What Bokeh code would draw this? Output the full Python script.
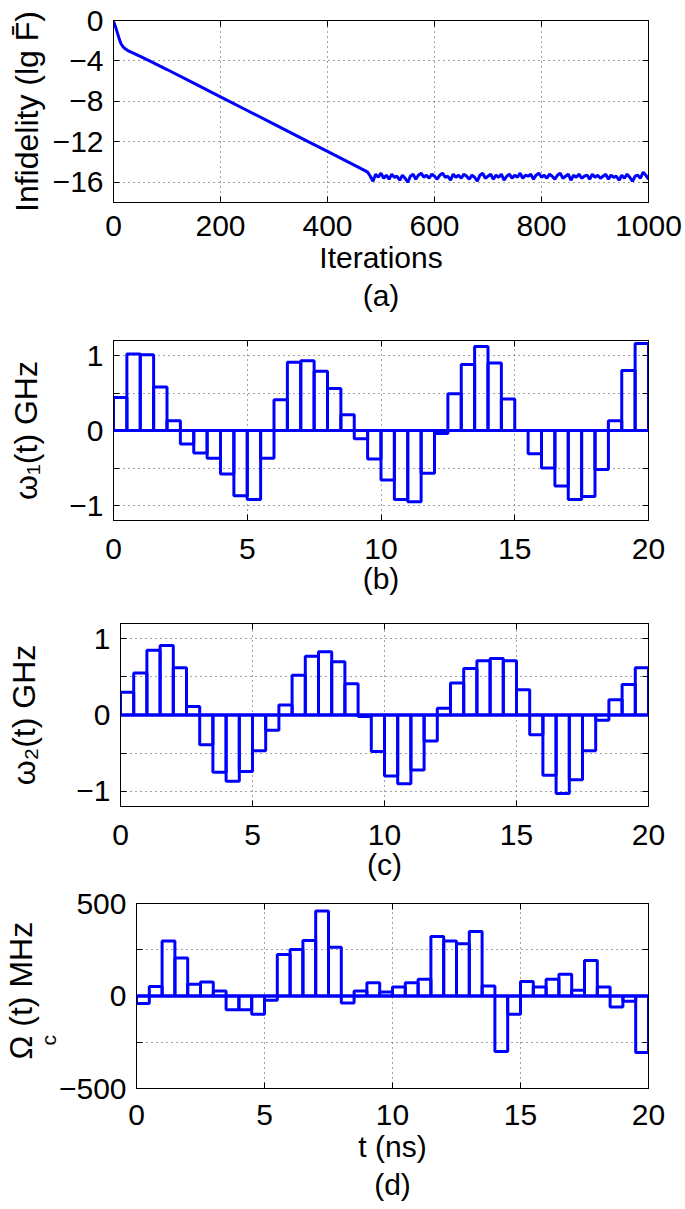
import math
from bokeh.plotting import figure
from bokeh.models import FixedTicker, Span, Title, LinearAxis
from bokeh.embed import file_html
from bokeh.resources import INLINE

BLUE = "#0000ff"
FONT = "Liberation Sans"
FS = "30px"
YFS = "32px"
W = 685

# ---------------- data ----------------
# (a) infidelity vs iterations
iter_head = [0, 3, 6, 10, 14, 18, 22, 26, 30, 35, 40, 50, 75, 100, 150, 200,
             250, 300, 350, 400, 450, 470]
infid_head = [-0.1, -0.5, -1.0, -1.7, -2.3, -2.6, -2.8, -2.95, -3.05, -3.18, -3.3,
              -3.55, -4.2, -4.85, -6.2, -7.55, -8.9, -10.25, -11.6, -12.95, -14.3, -14.85]
iter_tail = list(range(475, 1001, 5))
infid_tail = [
    -15.0, -15.4, -15.9, -15.2, -15.5, -15.1, -15.6, -15.3, -15.7, -15.2,
    -15.5, -15.4, -15.8, -15.3, -15.6, -16.0, -15.4, -15.2, -15.7, -15.3,
    -15.1, -15.5, -15.3, -15.6, -15.2, -15.4, -15.7, -15.3, -15.1, -15.5,
    -15.4, -15.8, -15.2, -15.5, -15.3, -15.6, -15.2, -15.4, -15.7, -15.3,
    -15.5, -15.9, -15.3, -15.1, -15.6, -15.4, -15.2, -15.7, -15.3, -15.5,
    -15.2, -15.8, -15.4, -15.2, -15.6, -15.3, -15.5, -15.1, -15.6, -15.3,
    -15.4, -15.2, -15.7, -15.3, -15.1, -15.5, -15.3, -15.6, -15.2, -15.4,
    -15.7, -15.3, -15.1, -15.6, -15.4, -15.2, -15.8, -15.3, -15.5, -15.2,
    -15.6, -15.4, -15.3, -15.7, -15.2, -15.5, -15.3, -15.6, -15.4, -15.2,
    -15.7, -15.3, -15.5, -15.4, -15.8, -15.3, -15.6, -15.2, -15.5, -15.9,
    -15.4, -15.3, -15.6, -15.0, -15.3, -15.7,
]
iterations = iter_head + iter_tail
infidelity = infid_head + infid_tail

# (b)-(d) piecewise-constant controls, 40 slots of 0.5 ns
dt = 0.5
t_start = [i * dt for i in range(40)]
t_end = [t + dt for t in t_start]

omega1 = [0.44, 1.02, 1.01, 0.58, 0.13, -0.18, -0.30, -0.37, -0.58, -0.87,
          -0.92, -0.37, 0.41, 0.91, 0.93, 0.79, 0.56, 0.21, -0.11, -0.38,
          -0.66, -0.92, -0.95, -0.57, -0.04, 0.49, 0.88, 1.12, 0.90, 0.42,
          0.0, -0.31, -0.50, -0.74, -0.92, -0.88, -0.52, 0.13, 0.80, 1.16]
omega2 = [0.30, 0.55, 0.85, 0.91, 0.62, 0.11, -0.39, -0.75, -0.87, -0.74,
          -0.47, -0.20, 0.13, 0.52, 0.77, 0.83, 0.70, 0.41, -0.02, -0.48,
          -0.80, -0.90, -0.72, -0.34, 0.09, 0.42, 0.61, 0.71, 0.74, 0.71,
          0.33, -0.26, -0.79, -1.03, -0.85, -0.47, -0.07, 0.20, 0.40, 0.62]
omega_c = [-40, 52, 297, 205, 63, 76, 27, -74, -74, -99,
           -23, 225, 252, 300, 459, 264, -38, 27, 72, 22,
           49, 72, 90, 322, 297, 282, 349, 54, -300, -99,
           79, 49, 90, 117, 31, 192, 49, -59, -29, -305]

ticks_a_x = [0, 200, 400, 600, 800, 1000]
ticks_a_y = [-16, -12, -8, -4, 0]
ticks_t = [0, 5, 10, 15, 20]
ticks_w = [-1, -0.5, 0, 0.5, 1]
ticks_wc = [-500, -250, 0, 250, 500]


def fmt(v):
    return ("%g" % v).replace("-", "\u2212")


def style_axis(ax):
    ax.axis_line_color = "black"
    ax.axis_line_width = 1
    ax.major_tick_in = 6
    ax.major_tick_out = 0
    ax.minor_tick_in = 0
    ax.minor_tick_out = 0
    ax.major_tick_line_color = "black"
    ax.major_label_text_font = FONT
    ax.major_label_text_font_size = FS
    ax.major_label_text_color = "black"
    ax.axis_label_text_font = FONT
    ax.axis_label_text_font_size = FS
    ax.axis_label_text_font_style = "normal"
    ax.axis_label_text_color = "black"


def box_axis(p, ticks, side):
    ax = LinearAxis(ticker=FixedTicker(ticks=ticks))
    style_axis(ax)
    ax.major_label_overrides = {v: "" for v in ticks}
    ax.major_label_text_font_size = "6px"
    ax.major_label_standoff = 0
    p.add_layout(ax, side)


def make_fig(h, xr, yr, left, top, bottom, xt, yt, hidden=(), standoff=18):
    p = figure(width=W, height=h, x_range=xr, y_range=yr,
               output_backend="svg", toolbar_location=None,
               min_border_left=left, min_border_right=W - 648,
               min_border_top=top, min_border_bottom=bottom)
    xa = p.below[0]
    ya = p.left[0]
    p.outline_line_color = "black"
    p.outline_line_width = 1
    p.outline_line_alpha = 1
    xa.ticker = FixedTicker(ticks=xt)
    ya.ticker = FixedTicker(ticks=yt)
    style_axis(xa)
    style_axis(ya)
    xa.major_label_overrides = {v: fmt(v) for v in xt}
    ya.major_label_overrides = {v: ("" if v in hidden else fmt(v)) for v in yt}
    xa.major_label_standoff = standoff
    ya.major_label_standoff = 10
    ya.axis_label_text_font_size = YFS
    p.grid.grid_line_color = "#333333"
    p.grid.grid_line_dash = "1 4"
    p.grid.grid_line_width = 1
    p.grid.grid_line_alpha = 0.9
    p.xgrid.ticker = FixedTicker(ticks=xt)
    p.ygrid.ticker = FixedTicker(ticks=yt)
    box_axis(p, yt, "right")
    box_axis(p, xt, "above")
    return p, xa, ya


def below_title(p, text):
    p.add_layout(Title(text=text, align="center", text_font=FONT, text_font_size=FS,
                       text_font_style="normal", text_color="black", standoff=0), "below")


# (a)
pa, xa_a, ya_a = make_fig(325, (0, 1000), (-18, 0), 113, 20, 123, ticks_a_x, ticks_a_y, standoff=13)
pa.line(iterations, infidelity, line_color=BLUE, line_width=3)
xa_a.axis_label = "Iterations"
xa_a.axis_label_standoff = 2
below_title(pa, "(a)")
ya_a.axis_label = "Infidelity (lg F\u0304)"
ya_a.axis_label_standoff = 5

# (b)
pb, xa_b, ya_b = make_fig(280, (0, 20), (-1.2, 1.2), 113, 15, 85, ticks_t, ticks_w, (-0.5, 0.5))
pb.quad(left=t_start, right=t_end, top=omega1, bottom=0, fill_color=None,
        line_color=BLUE, line_width=3)
pb.add_layout(Span(location=0, dimension="width", line_color=BLUE, line_width=3))
xa_b.axis_label = "(b)"
xa_b.axis_label_standoff = 0
ya_b.axis_label = "\u03c9\u2081(t) GHz"
ya_b.axis_label_standoff = 22

# (c)
pc, xa_c, ya_c = make_fig(279, (0, 20), (-1.2, 1.2), 120, 18, 78, ticks_t, ticks_w, (-0.5, 0.5))
pc.quad(left=t_start, right=t_end, top=omega2, bottom=0, fill_color=None,
        line_color=BLUE, line_width=3)
pc.add_layout(Span(location=0, dimension="width", line_color=BLUE, line_width=3))
xa_c.axis_label = "(c)"
xa_c.axis_label_standoff = 0
ya_c.axis_label = "\u03c9\u2082(t) GHz"
ya_c.axis_label_standoff = 31

# (d)
pd_, xa_d, ya_d = make_fig(325, (0, 20), (-500, 500), 130, 19, 121, ticks_t, ticks_wc,
                           (-250, 250), standoff=16)
pd_.quad(left=t_start, right=t_end, top=omega_c, bottom=0, fill_color=None,
         line_color=BLUE, line_width=3)
pd_.add_layout(Span(location=0, dimension="width", line_color=BLUE, line_width=3))
xa_d.axis_label = "t (ns)"
xa_d.axis_label_standoff = 2
below_title(pd_, "(d)")
# y label: Omega with subscript c, built from two side titles
pd_.add_layout(Title(text="c", align="left", offset=43, text_font=FONT,
                     text_font_size="21px", text_font_style="normal",
                     text_color="black", standoff=-8), "left")
pd_.add_layout(Title(text="\u03a9  (t) MHz", align="left", offset=29, text_font=FONT,
                     text_font_size=YFS, text_font_style="normal",
                     text_color="black", standoff=0), "left")

open("out.html", "w").write(file_html([pa, pb, pc, pd_], INLINE))
